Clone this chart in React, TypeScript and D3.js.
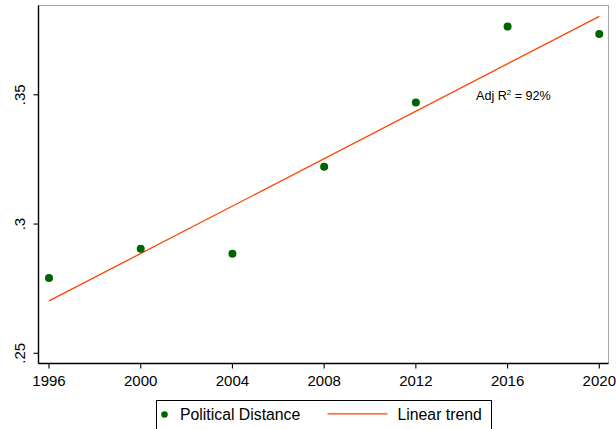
import React from "react";
import * as d3 from "d3";

const years = [1996, 2000, 2004, 2008, 2012, 2016, 2020];
const distance = [0.2791, 0.2904, 0.2885, 0.3222, 0.347, 0.3764, 0.3735];
const yTicks = [0.25, 0.3, 0.35];
const yTickLabels = [".25", ".3", ".35"];
const annotation = "Adj R";
const annotationTail = " = 92%";
const legendLabels = ["Political Distance", "Linear trend"];

const W = 616;
const H = 429;
const FONT = "'Liberation Sans', Arial, sans-serif";
const GREEN = "#006400";
const ORANGE = "#ff4500";

export default function App() {
  const x = d3.scaleLinear().domain([1996, 2020]).range([49, 599.3]);
  const y = d3.scaleLinear().domain([0.25, 0.35]).range([353.3, 94.8]);

  // least squares fit
  const mx = d3.mean(years)!;
  const my = d3.mean(distance)!;
  let num = 0;
  let den = 0;
  years.forEach((yr, i) => {
    num += (yr - mx) * (distance[i] - my);
    den += (yr - mx) * (yr - mx);
  });
  const slope = num / den;
  const icpt = my - slope * mx;
  const fitPts: [number, number][] = [years[0], years[years.length - 1]].map((yr) => [x(yr), y(icpt + slope * yr)]);
  const line = d3.line();

  const left = 38.5;
  const top = 5.5;
  const right = 608.5;
  const bottom = 363.5;

  return (
    <svg width={W} height={H} style={{ position: "absolute", left: 0, top: 0, background: "#fff" }} fontFamily={FONT}>
      <rect x={0} y={0} width={W} height={H} fill="#fff" />
      {/* plot region frame */}
      <rect x={left} y={top} width={right - left} height={bottom - top} fill="none" stroke="#a8a8a8" strokeWidth={1} />
      {/* axes */}
      <line x1={left} y1={top} x2={left} y2={bottom} stroke="#000" strokeWidth={1.4} />
      <line x1={left} y1={bottom} x2={right} y2={bottom} stroke="#000" strokeWidth={1.4} />
      {yTicks.map((t, i) => (
        <g key={t}>
          <line x1={left - 5} x2={left} y1={y(t)} y2={y(t)} stroke="#000" strokeWidth={1.1} />
          <text
            transform={`translate(25,${y(t)}) rotate(-90)`}
            textAnchor="middle"
            fontSize={15}
            fill="#000"
          >
            {yTickLabels[i]}
          </text>
        </g>
      ))}
      {years.map((yr) => (
        <g key={yr}>
          <line x1={x(yr)} x2={x(yr)} y1={bottom} y2={bottom + 5} stroke="#000" strokeWidth={1.1} />
          <text x={x(yr)} y={385.5} textAnchor="middle" fontSize={15} fill="#000">
            {yr}
          </text>
        </g>
      ))}
      {/* trend line */}
      <path d={line(fitPts)!} stroke={ORANGE} strokeWidth={1.3} fill="none" />
      {/* points */}
      {years.map((yr, i) => (
        <circle key={yr} cx={x(yr)} cy={y(distance[i])} r={4} fill={GREEN} />
      ))}
      {/* annotation */}
      <text x={476} y={100} fontSize={12.6} fill="#000">
        {annotation}
        <tspan fontSize={8} dy={-5}>2</tspan>
        <tspan dy={5}>{annotationTail}</tspan>
      </text>
      {/* legend */}
      <rect x={156.5} y={400.5} width={335} height={40} fill="#fff" stroke="#000" strokeWidth={1} />
      <circle cx={164.5} cy={414.5} r={3.3} fill={GREEN} />
      <text x={180} y={420} fontSize={15.8} fill="#000">{legendLabels[0]}</text>
      <line x1={327.5} x2={387.5} y1={413.8} y2={413.8} stroke={ORANGE} strokeWidth={1.3} />
      <text x={397.5} y={420} fontSize={15.8} fill="#000">{legendLabels[1]}</text>
    </svg>
  );
}
